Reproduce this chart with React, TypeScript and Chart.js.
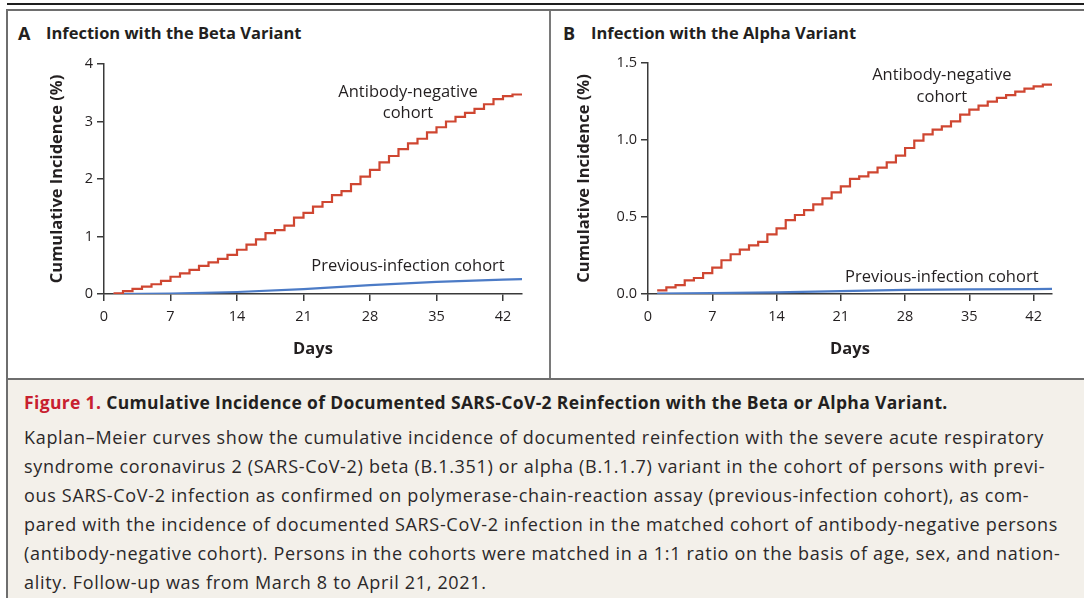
import React, { useEffect, useRef } from "react";
import { Chart, registerables } from "chart.js";

Chart.register(...registerables);

// ---------- DATA ----------
const stepDays = [1, 2, 3, 4, 5, 6, 7, 8, 9, 10, 11, 12, 13, 14, 15, 16, 17, 18, 19, 20, 21, 22, 23, 24, 25, 26, 27, 28, 29, 30, 31, 32, 33, 34, 35, 36, 37, 38, 39, 40, 41, 42, 43, 44];

const betaAntibodyNegative = [0.01, 0.05, 0.09, 0.13, 0.17, 0.23, 0.30, 0.36, 0.42, 0.49, 0.55, 0.61, 0.68, 0.77, 0.86, 0.95, 1.06, 1.11, 1.19, 1.33, 1.41, 1.52, 1.60, 1.72, 1.79, 1.91, 2.04, 2.16, 2.29, 2.40, 2.52, 2.62, 2.70, 2.81, 2.90, 3.00, 3.08, 3.15, 3.22, 3.30, 3.39, 3.44, 3.47, 3.47];

const alphaAntibodyNegative = [0.024, 0.043, 0.058, 0.089, 0.104, 0.136, 0.171, 0.219, 0.258, 0.288, 0.316, 0.338, 0.387, 0.426, 0.48, 0.513, 0.545, 0.582, 0.621, 0.66, 0.699, 0.747, 0.764, 0.79, 0.82, 0.855, 0.898, 0.948, 0.996, 1.037, 1.067, 1.089, 1.121, 1.165, 1.197, 1.223, 1.249, 1.273, 1.292, 1.314, 1.333, 1.348, 1.359, 1.359];

const prevInfectionDays = [1, 7, 14, 21, 28, 35, 42, 44];
const betaPreviousInfection = [0, 0.005, 0.035, 0.085, 0.155, 0.21, 0.25, 0.26];
const alphaPreviousInfection = [0.003, 0.006, 0.011, 0.019, 0.027, 0.03, 0.032, 0.033];

const dayTicks = [0, 7, 14, 21, 28, 35, 42];
const betaYTicks = [0, 1, 2, 3, 4];
const alphaYTicks = [0, 0.5, 1.0, 1.5];

const seriesNames = ["Antibody-negative cohort", "Previous-infection cohort"];

// label anchors (in data units)
const betaLabels = [
  { text: "Antibody-negative", x: 32, y: 3.5 },
  { text: "cohort", x: 32, y: 3.15 },
  { text: "Previous-infection cohort", x: 32, y: 0.49 },
];
const alphaLabels = [
  { text: "Antibody-negative", x: 32, y: 1.42 },
  { text: "cohort", x: 32, y: 1.28 },
  { text: "Previous-infection cohort", x: 32, y: 0.11 },
];

// ---------- STYLE ----------
const FONT = "'Open Sans', 'Noto Sans', sans-serif";
const INK = "#231f20";
const RED = "#cf4631";
const BLUE = "#4c7bc6";
const AXIS = "#3a3a3a";

function labelPlugin(labels: { text: string; x: number; y: number }[]) {
  return {
    id: "cohortLabels",
    afterDatasetsDraw(chart: any) {
      const { ctx, scales } = chart;
      ctx.save();
      ctx.font = `16.5px ${FONT}`;
      ctx.fillStyle = INK;
      ctx.textAlign = "center";
      ctx.textBaseline = "middle";
      labels.forEach((l) => {
        ctx.fillText(l.text, scales.x.getPixelForValue(l.x), scales.y.getPixelForValue(l.y));
      });
      ctx.restore();
    },
  };
}

function makeConfig(opts: {
  red: number[];
  blue: number[];
  yMax: number;
  yTicks: number[];
  decimals: number;
  labels: { text: string; x: number; y: number }[];
  padRight: number;
  padTop: number;
  yWidth: number;
  yTitlePad: number;
}) {
  return {
    type: "line",
    data: {
      datasets: [
        {
          label: seriesNames[0],
          data: stepDays.map((d, i) => ({ x: d, y: opts.red[i] })),
          borderColor: RED,
          borderWidth: 2.2,
          stepped: true,
          pointRadius: 0,
          fill: false,
        },
        {
          label: seriesNames[1],
          data: prevInfectionDays.map((d, i) => ({ x: d, y: opts.blue[i] })),
          borderColor: BLUE,
          borderWidth: 2.2,
          pointRadius: 0,
          tension: 0,
          fill: false,
        },
      ],
    },
    options: {
      animation: false,
      responsive: false,
      maintainAspectRatio: false,
      events: [],
      layout: { padding: { left: 0, right: opts.padRight, top: opts.padTop, bottom: 0 } },
      plugins: { legend: { display: false }, tooltip: { enabled: false } },
      scales: {
        x: {
          type: "linear",
          min: 0,
          max: 44,
          afterBuildTicks: (s: any) => {
            s.ticks = dayTicks.map((v) => ({ value: v }));
          },
          afterFit: (s: any) => {
            s.height = 84;
          },
          ticks: {
            color: INK,
            font: { family: FONT, size: 14.5 },
            padding: 7,
            maxRotation: 0,
            autoSkip: false,
          },
          grid: { drawOnChartArea: false, drawTicks: true, tickLength: 7, color: AXIS, lineWidth: 1.5 },
          border: { display: true, color: AXIS, width: 1.5 },
          title: {
            display: true,
            text: "Days",
            color: INK,
            font: { family: FONT, size: 16.5, weight: "bold" },
            padding: { top: 0, bottom: 19 },
          },
        },
        y: {
          type: "linear",
          min: 0,
          max: opts.yMax,
          afterBuildTicks: (s: any) => {
            s.ticks = opts.yTicks.map((v) => ({ value: v }));
          },
          afterFit: (s: any) => {
            s.width = opts.yWidth;
          },
          ticks: {
            color: INK,
            font: { family: FONT, size: 14.5 },
            padding: 4,
            callback: (v: number) => v.toFixed(opts.decimals),
          },
          grid: { drawOnChartArea: false, drawTicks: true, tickLength: 7, color: AXIS, lineWidth: 1.5 },
          border: { display: true, color: AXIS, width: 1.5 },
          title: {
            display: true,
            text: "Cumulative Incidence (%)",
            color: INK,
            font: { family: FONT, size: 16.5, weight: "bold" },
            padding: { top: opts.yTitlePad, bottom: 0 },
          },
        },
      },
    },
    plugins: [labelPlugin(opts.labels)],
  };
}

function Panel(props: { config: any; width: number; height: number }) {
  const ref = useRef<HTMLCanvasElement | null>(null);
  useEffect(() => {
    if (!ref.current) return;
    const chart = new Chart(ref.current, props.config);
    return () => chart.destroy();
  }, []);
  return (
    <canvas
      ref={ref}
      width={props.width}
      height={props.height}
      style={{ width: props.width, height: props.height, display: "block" }}
    />
  );
}

const betaConfig = makeConfig({
  red: betaAntibodyNegative,
  blue: betaPreviousInfection,
  yMax: 4,
  yTicks: betaYTicks,
  decimals: 0,
  labels: betaLabels,
  padRight: 27,
  padTop: 52,
  yWidth: 95,
  yTitlePad: 38,
});

const alphaConfig = makeConfig({
  red: alphaAntibodyNegative,
  blue: alphaPreviousInfection,
  yMax: 1.5,
  yTicks: alphaYTicks,
  decimals: 1,
  labels: alphaLabels,
  padRight: 32,
  padTop: 51,
  yWidth: 97,
  yTitlePad: 23,
});

const captionLines = [
  "Kaplan\u2013Meier curves show the cumulative incidence of documented reinfection with the severe acute respiratory",
  "syndrome coronavirus 2 (SARS-CoV-2) beta (B.1.351) or alpha (B.1.1.7) variant in the cohort of persons with previ-",
  "ous SARS-CoV-2 infection as confirmed on polymerase-chain-reaction assay (previous-infection cohort), as com-",
  "pared with the incidence of documented SARS-CoV-2 infection in the matched cohort of antibody-negative persons",
  "(antibody-negative cohort). Persons in the cohorts were matched in a 1:1 ratio on the basis of age, sex, and nation-",
  "ality. Follow-up was from March 8 to April 21, 2021.",
];

export default function App() {
  useEffect(() => {
    document.body.style.margin = "0";
  }, []);
  const abs = (o: any) => ({ position: "absolute" as const, ...o });
  return (
    <div
      style={{
        position: "absolute",
        left: 0,
        top: 0,
        width: 1084,
        height: 598,
        overflow: "hidden",
        background: "#fff",
        fontFamily: FONT,
        color: INK,
      }}
    >
      {/* top rules */}
      <div style={abs({ left: 7, top: 3, width: 1077, height: 2, background: "#1e1e1e" })} />
      <div style={abs({ left: 7, top: 9, width: 1077, height: 2, background: "#6e6e6e" })} />
      {/* left border */}
      <div style={abs({ left: 6, top: 9, width: 2, height: 589, background: "#6e6e6e" })} />
      {/* divider */}
      <div style={abs({ left: 549, top: 11, width: 2, height: 368, background: "#7a7a7a" })} />
      {/* caption separator */}
      <div style={abs({ left: 8, top: 378, width: 1076, height: 2, background: "#6e6e6e" })} />
      {/* caption background */}
      <div style={abs({ left: 8, top: 380, width: 1076, height: 218, background: "#f3f0ea" })} />

      {/* panel titles */}
      <div style={abs({ left: 18, top: 21, fontSize: 18, fontWeight: 700, lineHeight: "24px" })}>A</div>
      <div style={abs({ left: 46, top: 21, fontSize: 16.5, fontWeight: 700, lineHeight: "24px" })}>
        Infection with the Beta Variant
      </div>
      <div style={abs({ left: 563, top: 21, fontSize: 18, fontWeight: 700, lineHeight: "24px" })}>B</div>
      <div style={abs({ left: 591, top: 21, fontSize: 16.5, fontWeight: 700, lineHeight: "24px" })}>
        Infection with the Alpha Variant
      </div>

      {/* charts */}
      <div style={abs({ left: 9, top: 12 })}>
        <Panel config={betaConfig} width={540} height={366} />
      </div>
      <div style={abs({ left: 551, top: 12 })}>
        <Panel config={alphaConfig} width={533} height={366} />
      </div>

      {/* caption */}
      <div
        style={abs({
          left: 24,
          top: 389,
          fontSize: 17.5,
          fontWeight: 700,
          letterSpacing: "0.35px",
          lineHeight: "26px",
          whiteSpace: "nowrap",
        })}
      >
        <span style={{ color: "#c8202f" }}>Figure 1.</span> Cumulative Incidence of Documented SARS-CoV-2 Reinfection
        with the Beta or Alpha Variant.
      </div>
      {captionLines.map((line, i) => (
        <div
          key={i}
          style={abs({
            left: 24,
            top: 424 + i * 29,
            fontSize: 18,
            letterSpacing: "0.68px",
            lineHeight: "26px",
            whiteSpace: "nowrap",
            color: "#2b2829",
          })}
        >
          {line}
        </div>
      ))}
    </div>
  );
}
